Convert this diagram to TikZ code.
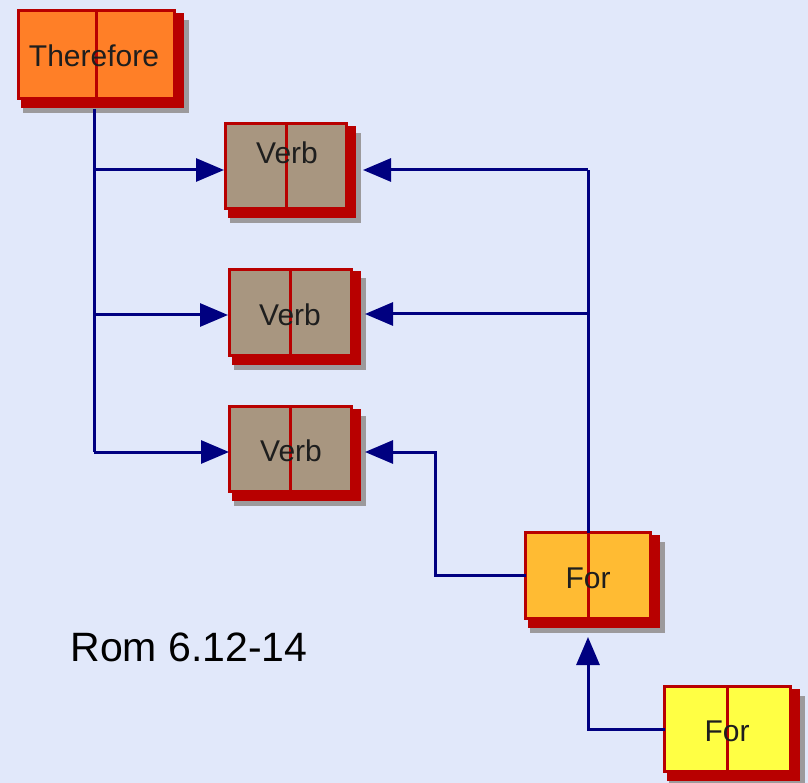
\documentclass[tikz,border=0pt]{standalone}
\usepackage{fontspec}
\setmainfont{Liberation Sans}
\usetikzlibrary{arrows.meta}
\definecolor{bgc}{RGB}{225,232,250}
\definecolor{bred}{RGB}{184,0,0}
\definecolor{shd}{RGB}{156,154,156}
\definecolor{corange}{RGB}{255,127,39}
\definecolor{cverb}{RGB}{168,150,128}
\definecolor{cfor}{RGB}{255,187,51}
\definecolor{cfortwo}{RGB}{255,255,68}
\definecolor{navy}{RGB}{0,0,128}
\definecolor{txt}{RGB}{30,30,30}
\pgfdeclarelayer{bglayer}
\pgfdeclarelayer{depthlayer}
\pgfsetlayers{bglayer,depthlayer,main}
\tikzset{
  book/.style={draw=bred, line width=3pt, rectangle, inner sep=0pt, outer sep=0pt},
  spine/.style={draw=bred, line width=3pt},
  lbl/.style={font=\fontsize{30}{32}\selectfont, text=txt, inner sep=0pt},
  conn/.style={draw=navy, line width=3pt},
  arr/.style={conn, -{Triangle[length=28pt,width=23pt]}},
}
\begin{document}
\begin{tikzpicture}[x=1pt,y=-1pt]
\begin{pgfonlayer}{bglayer}
\fill[bgc] (0,0) rectangle (808,783);
\end{pgfonlayer}
\useasboundingbox (0,0) rectangle (808,783);
% books
\node[book, fill=corange, minimum width=156pt, minimum height=88pt] (th) at (96.5,55) {};
\node[book, fill=cverb, minimum width=121pt, minimum height=85pt] (v1) at (286,166.5) {};
\node[book, fill=cverb, minimum width=122pt, minimum height=86pt] (v2) at (290.5,312.5) {};
\node[book, fill=cverb, minimum width=122pt, minimum height=85pt] (v3) at (290.5,449) {};
\node[book, fill=cfor, minimum width=125pt, minimum height=86pt] (f1) at (588,575.5) {};
\node[book, fill=cfortwo, minimum width=126pt, minimum height=85pt] (f2) at (727.5,729) {};
\begin{pgfonlayer}{depthlayer}
\foreach \n in {th,v1,v2,v3,f1,f2}{
  \fill[shd] ([shift={(4,9)}]\n.north west) rectangle ([shift={(14,14)}]\n.south east);
  \fill[bred] ([shift={(2,2)}]\n.north west) rectangle ([shift={(9,9)}]\n.south east);
}
\end{pgfonlayer}
\foreach \n in {th,v1,v2,v3,f1,f2}{\draw[spine] (\n.north) -- (\n.south);}
% labels
\node[lbl] (tth) at (94,56) {Therefore};
\node[lbl] (tv1) at (287,153) {Verb};
\node[lbl] (tv2) at (290,315) {Verb};
\node[lbl] (tv3) at (291,451) {Verb};
\node[lbl] (tf1) at (588,578) {For};
\node[lbl] (tf2) at (727,731) {For};
\node[font=\fontsize{41}{44}\selectfont, text=black, inner sep=0pt] (rom) at (189,647) {Rom 6.12-14};
% coordinates for connectors
\coordinate (lx) at (94,0);
\coordinate (rx) at (588,0);
\coordinate (a1l) at (224,170);
\coordinate (a2l) at (228,315);
\coordinate (a3l) at (229,452);
\coordinate (a1r) at (363,170);
\coordinate (a2r) at (365,314);
\coordinate (a3r) at (365,452);
\coordinate (k3) at (435,452);
\coordinate (f1b) at (588,637);
% left connectors from Therefore
\draw[conn] ([yshift=-10pt]th.south -| lx) -- (lx |- a3l);
\draw[arr] (lx |- a1l) -- (a1l);
\draw[arr] (lx |- a2l) -- (a2l);
\draw[arr] (lx |- a3l) -- (a3l);
% right connectors from For
\draw[conn] (f1.north -| rx) -- (rx |- a1r);
\draw[arr] (rx |- a1r) -- (a1r);
\draw[arr] (rx |- a2r) -- (a2r);
\draw[arr] (f1.west) -| (k3) -- (a3r);
\draw[arr] (f2.west) -| (f1b);
\end{tikzpicture}
\end{document}
